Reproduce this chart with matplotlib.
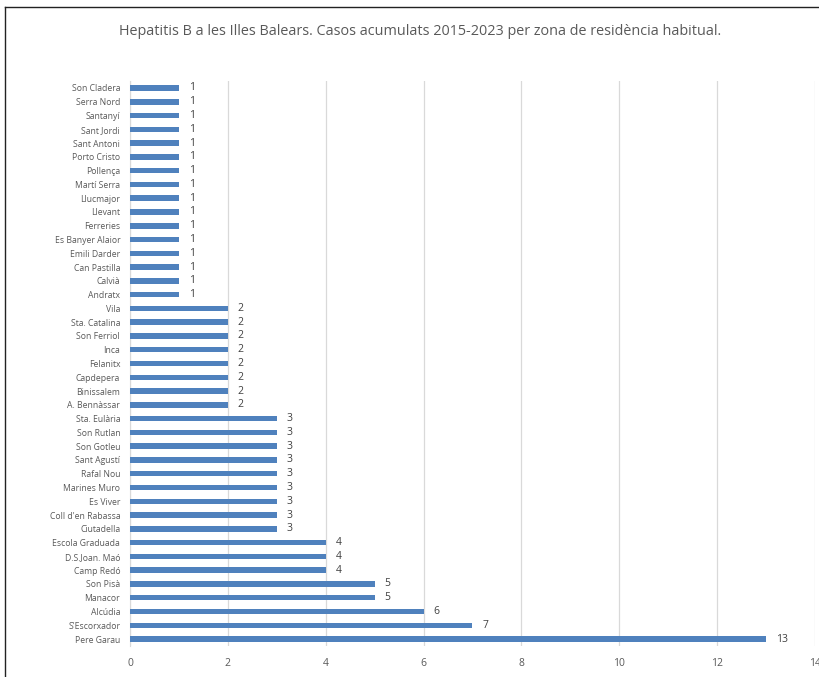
import matplotlib
matplotlib.use("Agg")
import matplotlib.pyplot as plt
from matplotlib.lines import Line2D

# zones listed top -> bottom as in the chart
zones = ["Son Cladera", "Serra Nord", "Santanyí", "Sant Jordi", "Sant Antoni",
         "Porto Cristo", "Pollença", "Martí Serra", "Llucmajor", "Llevant",
         "Ferreries", "Es Banyer Alaior", "Emili Darder", "Can Pastilla", "Calvià",
         "Andratx", "Vila", "Sta. Catalina", "Son Ferriol", "Inca", "Felanitx",
         "Capdepera", "Binissalem", "A. Bennàssar", "Sta. Eulària", "Son Rutlan",
         "Son Gotleu", "Sant Agustí", "Rafal Nou", "Marines Muro", "Es Viver",
         "Coll d'en Rabassa", "Ciutadella", "Escola Graduada", "D.S.Joan. Maó",
         "Camp Redó", "Son Pisà", "Manacor", "Alcúdia", "S'Escorxador", "Pere Garau"]
cases = [1, 1, 1, 1, 1, 1, 1, 1, 1, 1, 1, 1, 1, 1, 1, 1,
         2, 2, 2, 2, 2, 2, 2, 2,
         3, 3, 3, 3, 3, 3, 3, 3, 3,
         4, 4, 4, 5, 5, 6, 7, 13]
xticks = [0, 2, 4, 6, 8, 10, 12, 14]

TITLE = "Hepatitis B a les Illes Balears. Casos acumulats 2015-2023 per zona de residència habitual."
BLUE, GRID, INK, MUTE = "#4f81bd", "#d9d9d9", "#404040", "#595959"

plt.rcParams["font.family"] = ["Open Sans", "DejaVu Sans"]

fig = plt.figure(figsize=(8.2, 6.77), dpi=100)
ax = fig.add_axes([0.1585, 0.0459, 0.8354, 0.8343])

y = list(range(len(zones)))
ax.barh(y, cases, height=0.4, color=BLUE, zorder=3)
ax.set_ylim(len(zones) - 0.5, -0.5)
ax.set_xlim(0, 14)
ax.set_yticks(y)
ax.set_yticklabels(zones, fontsize=6.2, color=MUTE)
ax.set_xticks(xticks)
ax.set_xticklabels([str(t) for t in xticks], fontsize=7.5, color=MUTE)
ax.tick_params(length=0, pad=7)
ax.tick_params(axis="x", pad=9)
ax.grid(axis="x", color=GRID, lw=0.9, zorder=0)
for s in ("top", "right", "bottom"):
    ax.spines[s].set_visible(False)
ax.spines["left"].set_color(GRID)

for i, v in enumerate(cases):
    ax.text(v + 0.2, i, str(v), va="center", ha="left", fontsize=7.5, color=INK, zorder=5)

fig.text(0.512, 0.954, TITLE, ha="center", va="center", fontsize=10.4, color=MUTE)

# outer chart frame (only top and left edges fall inside the image)
fig.add_artist(Line2D([5 / 820, 5 / 820], [0, 1 - 7 / 677], transform=fig.transFigure, color="#222", lw=1))
fig.add_artist(Line2D([5 / 820, 1], [1 - 7 / 677, 1 - 7 / 677], transform=fig.transFigure, color="#222", lw=1))

fig.savefig("out.png", dpi=100)
